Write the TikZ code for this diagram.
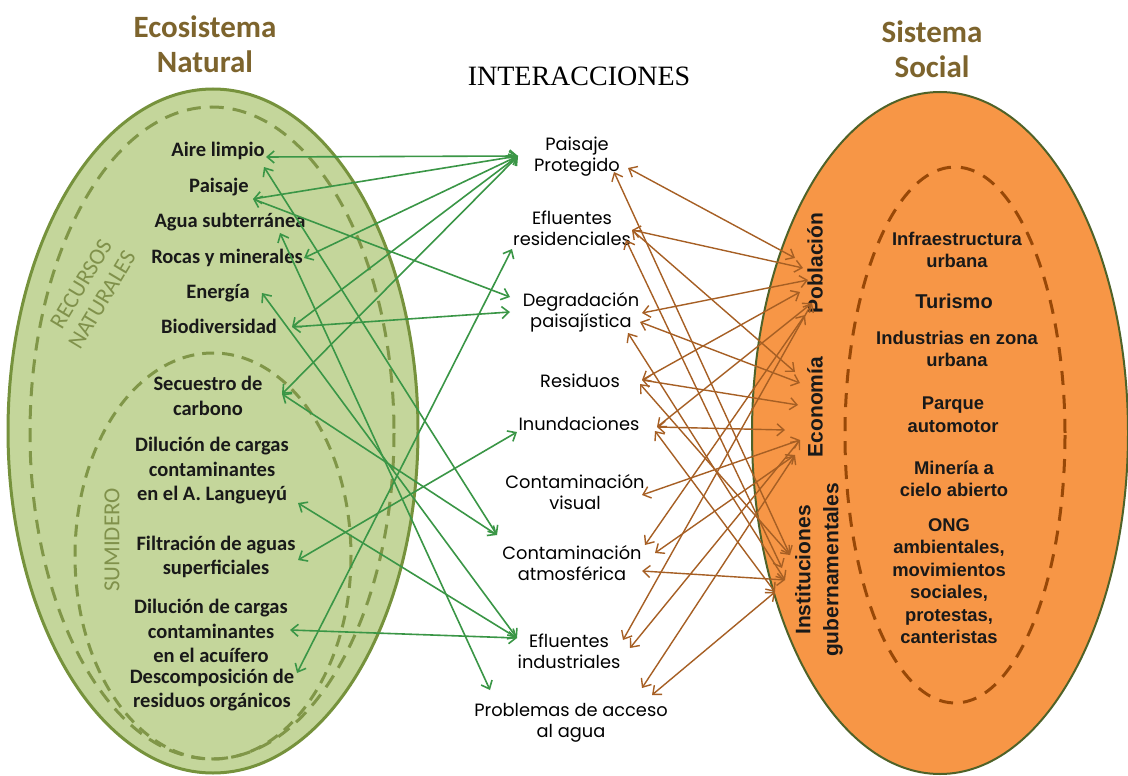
\documentclass[tikz,border=0pt]{standalone}
\usepackage{fontspec}
\setmainfont{Carlito}
\newfontfamily\fcarl{Carlito}
\newfontfamily\farial{Liberation Sans}
\newfontfamily\fpop{Poppins}
\newfontfamily\fser{Liberation Serif}
\usetikzlibrary{arrows.meta}
\definecolor{lgfill}{RGB}{196,214,155}
\definecolor{lgline}{RGB}{118,146,60}
\definecolor{lgdash}{RGB}{128,150,72}
\definecolor{olivetxt}{RGB}{128,145,75}
\definecolor{titlec}{RGB}{125,100,45}
\definecolor{orfill}{RGB}{247,150,70}
\definecolor{orline}{RGB}{79,98,40}
\definecolor{ordash}{RGB}{152,72,7}
\definecolor{garrow}{RGB}{58,150,70}
\definecolor{barrow}{RGB}{166,95,36}
\definecolor{txt}{RGB}{25,25,25}
\tikzset{
  lefttxt/.style={font=\fcarl\bfseries\fontsize{20.5}{24.5}\selectfont, text=txt, align=center, inner sep=0pt},
  midtxt/.style={font=\fpop\fontsize{17.8}{21}\selectfont, text=black, align=center, inner sep=0pt},
  righttxt/.style={font=\farial\bfseries\fontsize{18.4}{22.5}\selectfont, text=txt, align=center, inner sep=0pt},
  rottxt/.style={font=\farial\bfseries\fontsize{21}{28}\selectfont, text=txt, align=center, inner sep=0pt, rotate=90},
  titletxt/.style={font=\fcarl\bfseries\fontsize{31}{35}\selectfont, text=titlec, align=center, inner sep=0pt},
  olivelabel/.style={font=\fcarl\fontsize{23}{23}\selectfont, text=olivetxt, inner sep=0pt},
  gar/.style={<->, >={Straight Barb[length=7pt,width=12pt]}, line width=1.6pt, draw=garrow},
  bar/.style={<->, >={Straight Barb[length=7pt,width=12pt]}, line width=1.4pt, draw=barrow},
}
\begin{document}
\begin{tikzpicture}[x=1pt,y=-1pt]
\useasboundingbox (0,0) rectangle (1128,776);
\fill[white] (0,0) rectangle (1128,776);
% ---------- left ellipse
\draw[fill=lgfill, draw=lgline, line width=3pt] (213,431) ellipse [x radius=205, y radius=342];
\draw[draw=lgdash, line width=3pt, dash pattern=on 14pt off 9pt] (212,433) ellipse [x radius=182, y radius=326];
\draw[draw=lgdash, line width=3pt, dash pattern=on 12pt off 8pt] (213,556) ellipse [x radius=138, y radius=203];
% ---------- right ellipse
\draw[fill=orfill, draw=orline, line width=2pt] (940,433) ellipse [x radius=188, y radius=341];
\draw[draw=ordash, line width=3pt, dash pattern=on 14pt off 10pt] (955,435) ellipse [x radius=110, y radius=268];
% ---------- titles
\node[titletxt] (tEco) at (205,44) {Ecosistema\\Natural};
\node[titletxt] (tSoc) at (932,49) {Sistema\\Social};
\node[font=\fser\fontsize{28}{30}\selectfont, inner sep=0pt, anchor=base] (tInt) at (579,86) {INTERACCIONES};
% ---------- left rotated labels
\node[olivelabel, rotate=59] (lRec) at (81,284) {RECURSOS};
\node[olivelabel, rotate=59] (lNat) at (102,300) {NATURALES};
\node[olivelabel, rotate=90] (lSum) at (112,540) {SUMIDERO};
% ---------- left items
\node[lefttxt, anchor=base] (nAire) at (218,156) {Aire limpio};
\node[lefttxt, anchor=base] (nPais) at (219,192) {Paisaje};
\node[lefttxt, anchor=base] (nAgua) at (230,227) {Agua subterránea};
\node[lefttxt, anchor=base] (nRocas) at (227,263) {Rocas y minerales};
\node[lefttxt, anchor=base] (nEner) at (218,298) {Energía};
\node[lefttxt, anchor=base] (nBiod) at (219,333) {Biodiversidad};
\node[lefttxt] (nSecu) at (208,396) {Secuestro de\\carbono};
\node[lefttxt] (nLang) at (212,471) {Dilución de cargas\\contaminantes\\en el A. Langueyú};
\node[lefttxt] (nFilt) at (216,557) {Filtración de aguas\\superficiales};
\node[lefttxt] (nAcui) at (211,631) {Dilución de cargas\\contaminantes\\en el acuífero};
\node[lefttxt] (nDesc) at (212,690) {Descomposición de\\residuos orgánicos};
% ---------- middle items
\node[midtxt] (mPP) at (577,157) {Paisaje\\Protegido};
\node[midtxt] (mER) at (572,228) {Efluentes\\residenciales};
\node[midtxt] (mDP) at (581,312) {Degradación\\paisajística};
\node[midtxt, anchor=base] (mRE) at (580,387) {Residuos};
\node[midtxt, anchor=base] (mIN) at (579,430) {Inundaciones};
\node[midtxt] (mCV) at (575,492) {Contaminación\\visual};
\node[midtxt] (mCA) at (572,563) {Contaminación\\atmosférica};
\node[midtxt] (mEI) at (569,651) {Efluentes\\industriales};
\node[midtxt] (mPA) at (571,723) {Problemas de acceso\\al agua};
% ---------- right items
\node[righttxt] (rInf) at (957,250) {Infraestructura\\urbana};
\node[righttxt, font=\farial\bfseries\fontsize{20}{22}\selectfont, anchor=base] (rTur) at (954,308) {Turismo};
\node[righttxt] (rInd) at (957,349) {Industrias en zona\\urbana};
\node[righttxt] (rPar) at (953,415) {Parque\\automotor};
\node[righttxt] (rMin) at (954,479) {Minería  a\\cielo  abierto};
\node[righttxt] (rONG) at (949,581) {ONG\\ambientales,\\movimientos\\sociales,\\protestas,\\canteristas};
\node[rottxt] (rPob) at (815,263) {Población};
\node[rottxt] (rEco) at (815,407) {Economía};
\node[rottxt] (rIns) at (819,570) {Instituciones\\gubernamentales};
% ---------- green connector ends
\coordinate (gAire) at (266,157);
\coordinate (gAire2) at (264,167);
\coordinate (gPais) at (253,199);
\coordinate (gAgua) at (280,233);
\coordinate (gRocas) at (304,258);
\coordinate (gEner) at (262,293);
\coordinate (gBiod) at (292,327);
\coordinate (gSecu) at (282,394);
\coordinate (gLang) at (298,503);
\coordinate (gFilt) at (298,560);
\coordinate (gAcui) at (290,630);
\coordinate (gDesc) at (297,673);
\coordinate (cPP) at (518,156);
\coordinate (cER) at (512,249);
\coordinate (cDP1) at (510,297);
\coordinate (cDP2) at (510,312);
\coordinate (cIN) at (517,432);
\coordinate (cCA) at (497,535);
\coordinate (cEI) at (517,638);
\coordinate (cPA) at (490,690);
\draw[gar] (gAire) -- (cPP);
\draw[gar] (gPais) -- (cPP);
\draw[gar] (gRocas) -- (cPP);
\draw[gar] (gBiod) -- (cPP);
\draw[gar] (gSecu) -- (cPP);
\draw[gar] (gPais) -- (cDP1);
\draw[gar] (gBiod) -- (cDP2);
\draw[gar] (gAire2) -- (cCA);
\draw[gar] (gSecu) -- (cCA);
\draw[gar] (gAgua) -- (cPA);
\draw[gar] (gEner) -- (cEI);
\draw[gar] (gLang) -- (cEI);
\draw[gar] (gAcui) -- (cEI);
\draw[gar] (gFilt) -- (cIN);
\draw[gar] (gDesc) -- (cER);
% ---------- brown connector ends
\coordinate (bPP1) at (628,168);
\coordinate (bPP2) at (614,172);
\coordinate (bER1) at (632,230);
\coordinate (bER2) at (626,240);
\coordinate (bDP1) at (642,313);
\coordinate (bDP2) at (640,322);
\coordinate (bDP3) at (628,333);
\coordinate (bRE1) at (642,380);
\coordinate (bRE2) at (640,384);
\coordinate (bIN1) at (657,427);
\coordinate (bIN2) at (655,431);
\coordinate (bCV) at (642,495);
\coordinate (bCA1) at (645,545);
\coordinate (bCA2) at (655,553);
\coordinate (bCA3) at (642,571);
\coordinate (bEI1) at (623,640);
\coordinate (bEI2) at (630,648);
\coordinate (bPA1) at (642,688);
\coordinate (bPA2) at (652,695);
\coordinate (pP1) at (795,258);
\coordinate (pP2) at (803,268);
\coordinate (pP3) at (808,280);
\coordinate (pP4) at (800,292);
\coordinate (pP5) at (812,303);
\coordinate (pP6) at (805,315);
\coordinate (pE1) at (795,372);
\coordinate (pE2) at (800,383);
\coordinate (pE3) at (798,405);
\coordinate (pE4) at (785,430);
\coordinate (pE5) at (800,440);
\coordinate (pE6) at (795,455);
\coordinate (pI1) at (790,555);
\coordinate (pI2) at (782,568);
\coordinate (pI3) at (785,580);
\coordinate (pI4) at (775,592);
\draw[bar] (bPP1) -- (pP1);
\draw[bar] (bPP2) -- (pI1);
\draw[bar] (bER1) -- (pP2);
\draw[bar] (bER1) -- (pE1);
\draw[bar] (bER2) -- (pI2);
\draw[bar] (bDP1) -- (pP3);
\draw[bar] (bDP2) -- (pE2);
\draw[bar] (bDP3) -- (pI3);
\draw[bar] (bRE1) -- (pE3);
\draw[bar] (bRE1) -- (pP4);
\draw[bar] (bRE2) -- (pI1);
\draw[bar] (bIN1) -- (pE4);
\draw[bar] (bIN1) -- (pP5);
\draw[bar] (bIN2) -- (pI4);
\draw[bar] (bCV) -- (pE5);
\draw[bar] (bCA1) -- (pP6);
\draw[bar] (bCA2) -- (pE6);
\draw[bar] (bCA3) -- (pI3);
\draw[bar] (bEI1) -- (pP5);
\draw[bar] (bEI2) -- (pE5);
\draw[bar] (bPA1) -- (pE6);
\draw[bar] (bPA2) -- (pI4);
\end{tikzpicture}
\end{document}
